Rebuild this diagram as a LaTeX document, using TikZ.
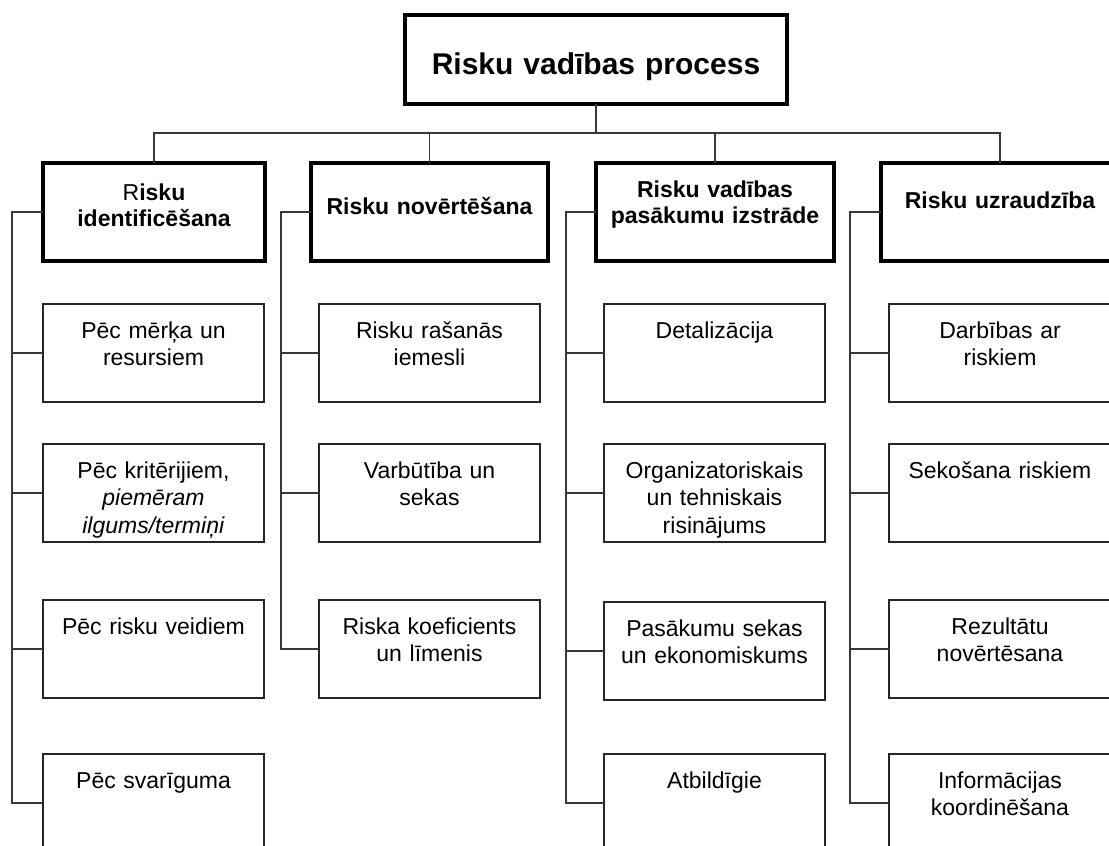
\documentclass[tikz,border=0pt]{standalone}
\usepackage{fontspec}
\setmainfont{Liberation Sans}
\definecolor{itemc}{gray}{0.15}
\definecolor{connc}{gray}{0.22}
\begin{document}
\begin{tikzpicture}[x=1pt,y=-1pt,
  title/.style={draw=black, line width=4pt, inner sep=0pt, outer sep=0pt, text width=382pt, align=center,
    font=\bfseries\fontsize{30}{34}\selectfont, anchor=north west},
  hdr/.style={draw=black, line width=3.5pt, inner sep=0pt, outer sep=0pt, align=center,
    font=\bfseries\fontsize{23}{26}\selectfont, anchor=north west},
  item/.style={draw=itemc, line width=1.4pt, inner sep=0pt, outer sep=0pt, text width=221pt, align=center,
    font=\fontsize{23}{27.5}\selectfont, text height=34pt, text depth=64pt, anchor=north west},
  conn/.style={draw=connc, line width=1.3pt}]
\useasboundingbox (0,0) rectangle (1109,846);
\clip (0,0) rectangle (1109,846);

% title
\node[title, text height=59pt, text depth=30pt] (top) at (405,15) {Risku vadības process};

% headers
\node[hdr, text width=222pt, text height=37pt, text depth=61pt] (h1) at (43,163) {{\mdseries R}isku\\identificēšana};
\node[hdr, text width=237pt, text height=51pt, text depth=47pt] (h2) at (311,163) {Risku novērtēšana};
\node[hdr, text width=238pt, text height=34pt, text depth=64pt] (h3) at (596,163) {Risku vadības\\pasākumu izstrāde};
\node[hdr, text width=238pt, text height=45pt, text depth=53pt] (h4) at (881,163) {Risku uzraudzība};

% column 1
\node[item] (i11) at (43,304) {Pēc mērķa un\\resursiem};
\node[item] (i12) at (43,444) {Pēc kritērijiem,\\\textit{piemēram}\\\textit{ilgums/termiņi}};
\node[item] (i13) at (43,600) {Pēc risku veidiem};
\node[item] (i14) at (43,754) {Pēc svarīguma};

% column 2
\node[item] (i21) at (319,304) {Risku rašanās\\iemesli};
\node[item] (i22) at (319,444) {Varbūtība un\\sekas};
\node[item] (i23) at (319,600) {Riska koeficients\\un līmenis};

% column 3
\node[item] (i31) at (604,304) {Detalizācija};
\node[item] (i32) at (604,444) {Organizatoriskais\\un tehniskais\\risinājums};
\node[item] (i33) at (604,602) {Pasākumu sekas\\un ekonomiskums};
\node[item] (i34) at (604,754) {Atbildīgie};

% column 4
\node[item, text width=222pt] (i41) at (889,304) {Darbības ar\\riskiem};
\node[item, text width=222pt] (i42) at (889,444) {Sekošana riskiem};
\node[item, text width=222pt] (i43) at (889,600) {Rezultātu\\novērtēsana};
\node[item, text width=222pt] (i44) at (889,754) {Informācijas\\koordinēšana};

% tree connectors
\coordinate (bus) at (596,133);
\draw[conn] (top.south) -- (top.south |- bus);
\draw[conn] (h1.north) |- (bus) -| (h4.north);
\draw[conn] (h2.north) -- (h2.north |- bus);
\draw[conn] (h3.north) -- (h3.north |- bus);

% column spines
\coordinate (s1) at (12,0);
\coordinate (s2) at (281,0);
\coordinate (s3) at (566,0);
\coordinate (s4) at (850,0);

\draw[conn] (h1.west) -- (h1.west -| s1) |- (i14.west);
\foreach \n in {i11,i12,i13} \draw[conn] (\n.west) -- (\n.west -| s1);

\draw[conn] (h2.west) -- (h2.west -| s2) |- (i23.west);
\foreach \n in {i21,i22} \draw[conn] (\n.west) -- (\n.west -| s2);

\draw[conn] (h3.west) -- (h3.west -| s3) |- (i34.west);
\foreach \n in {i31,i32,i33} \draw[conn] (\n.west) -- (\n.west -| s3);

\draw[conn] (h4.west) -- (h4.west -| s4) |- (i44.west);
\foreach \n in {i41,i42,i43} \draw[conn] (\n.west) -- (\n.west -| s4);
\end{tikzpicture}
\end{document}
